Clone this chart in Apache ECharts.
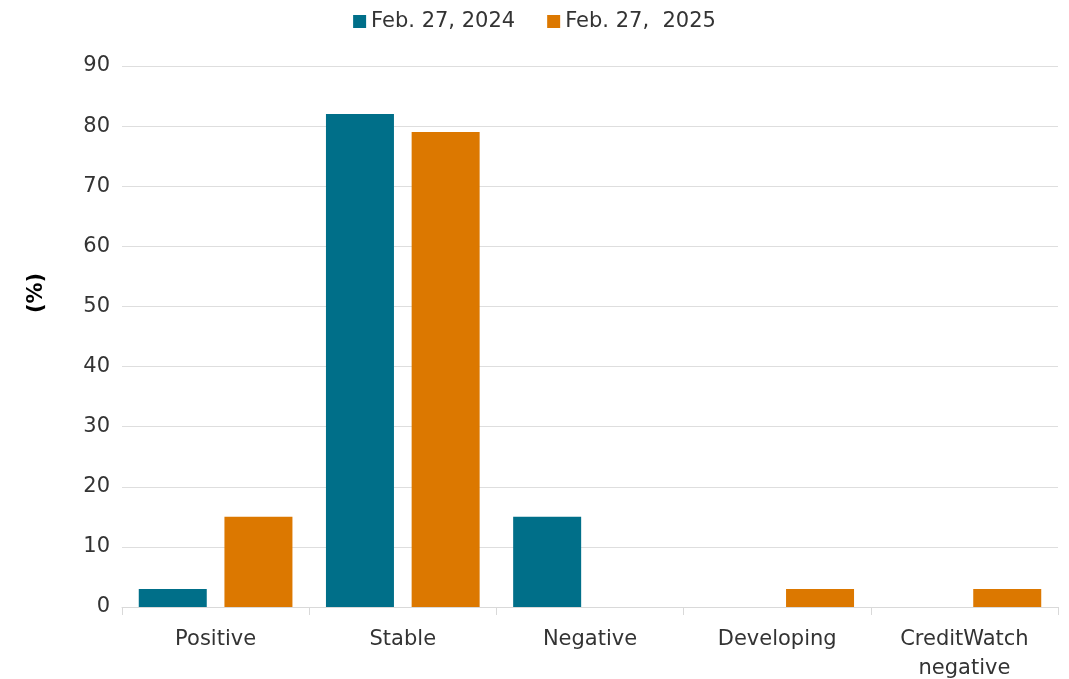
<!DOCTYPE html>
<html>
<head>
<meta charset="utf-8">
<script src="https://cdn.jsdelivr.net/npm/echarts@6/dist/echarts.min.js"></script>
<style>
  html, body { margin: 0; padding: 0; background: #fff; }
  #main { width: 1069px; height: 679px; }
</style>
</head>
<body>
<div id="main"></div>
<script>
// 数据
const categories = ['Positive', 'Stable', 'Negative', 'Developing', 'CreditWatch\nnegative'];
const seriesNames = ['Feb. 27, 2024', 'Feb. 27,  2025'];
const values2024 = [3, 82, 15, 0, 0];
const values2025 = [15, 79, 0, 3, 3];
const yTicks = [0, 90, 10]; // min, max, interval

const chart = echarts.init(document.getElementById('main'));
const textColor = '#333333';
const fontFamily = '"DejaVu Sans", sans-serif';

chart.setOption({
  animation: false,
  textStyle: { fontFamily: fontFamily },
  legend: {
    top: 6,
    left: 'center',
    itemWidth: 13,
    itemHeight: 13,
    itemGap: 32,
    icon: 'rect',
    textStyle: { fontSize: 21, color: textColor, fontFamily: fontFamily },
    data: seriesNames
  },
  // y轴名称
  graphic: [{
    type: 'text',
    x: 37,
    y: 293,
    rotation: Math.PI / 2,
    style: {
      text: '(%)',
      fontSize: 21,
      fontWeight: 'bold',
      fill: '#000',
      fontFamily: fontFamily,
      align: 'center',
      verticalAlign: 'middle'
    }
  }],
  grid: { left: 122, right: 11, top: 66, bottom: 72, outerBoundsMode: 'none', containLabel: false },
  xAxis: {
    type: 'category',
    data: categories,
    axisLine: { lineStyle: { color: '#d9d9d9' } },
    axisTick: { show: true, length: 8, lineStyle: { color: '#d9d9d9' } },
    axisLabel: { fontSize: 21, color: textColor, margin: 18, lineHeight: 29 }
  },
  yAxis: {
    type: 'value',
    min: yTicks[0],
    max: yTicks[1],
    interval: yTicks[2],
    axisLine: { show: false },
    axisTick: { show: false },
    axisLabel: { fontSize: 21, color: textColor, margin: 12 },
    splitLine: { lineStyle: { color: '#dedede', width: 1 } }
  },
  series: [
    {
      name: seriesNames[0],
      type: 'bar',
      data: values2024,
      barWidth: 68,
      barGap: '26%',
      itemStyle: { color: '#006f89' }
    },
    {
      name: seriesNames[1],
      type: 'bar',
      data: values2025,
      barWidth: 68,
      itemStyle: { color: '#dc7800' }
    }
  ]
});
</script>
</body>
</html>
